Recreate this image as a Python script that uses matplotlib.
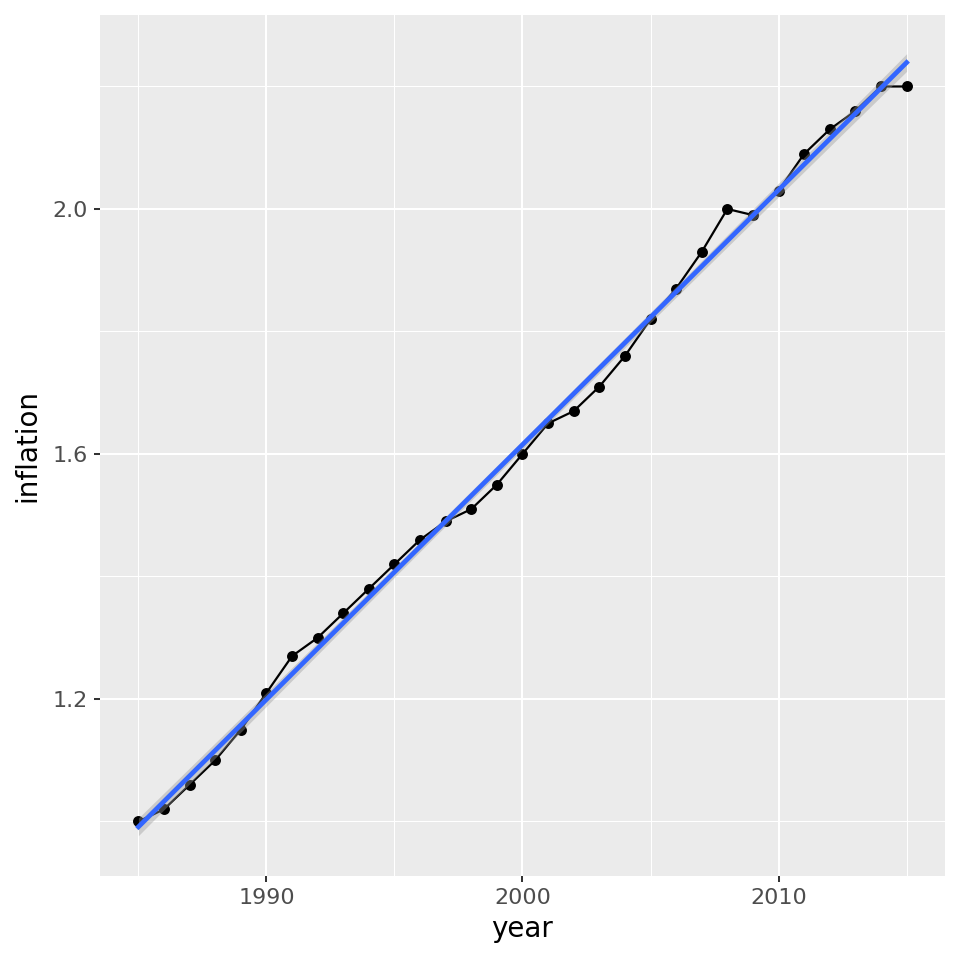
import numpy as np
import matplotlib
matplotlib.use("Agg")
import matplotlib.pyplot as plt
from matplotlib.ticker import MultipleLocator

# data
years = list(range(1985, 2016))
inflation = [1.00, 1.02, 1.06, 1.10, 1.15, 1.21, 1.27, 1.30, 1.34, 1.38,
             1.42, 1.46, 1.49, 1.51, 1.55, 1.60, 1.65, 1.67, 1.71, 1.76,
             1.82, 1.87, 1.93, 2.00, 1.99, 2.03, 2.09, 2.13, 2.16, 2.20,
             2.20]

x = np.array(years, dtype=float)
y = np.array(inflation)

# linear fit with 95% confidence band (like geom_smooth(method="lm"))
slope, icpt = np.polyfit(x, y, 1)
xs = np.linspace(x.min(), x.max(), 80)
fit = icpt + slope * xs
n = len(x)
resid = y - (icpt + slope * x)
s = np.sqrt(np.sum(resid**2) / (n - 2))
sxx = np.sum((x - x.mean())**2)
se = s * np.sqrt(1.0 / n + (xs - x.mean())**2 / sxx)
tq = 2.045  # t(0.975, df=29)
lo, hi = fit - tq * se, fit + tq * se

fig = plt.figure(figsize=(9.6, 9.6), dpi=100)
ax = fig.add_axes([100 / 960, 1 - 876 / 960, 845 / 960, 861 / 960])
ax.set_facecolor("#EBEBEB")
for sp in ax.spines.values():
    sp.set_visible(False)

ax.set_xticks([1990, 2000, 2010])
ax.xaxis.set_minor_locator(MultipleLocator(5))
ax.set_yticks([1.2, 1.6, 2.0])
ax.set_yticks([1.0, 1.4, 1.8, 2.2], minor=True)
ax.grid(which="major", color="white", linewidth=1.45)
ax.grid(which="minor", color="white", linewidth=0.72)
ax.set_axisbelow(True)

ax.plot(x, y, color="black", linewidth=1.6, zorder=3)
ax.scatter(x, y, s=62, color="black", zorder=3, linewidths=0)
ax.fill_between(xs, lo, hi, color="#999999", alpha=0.4, linewidth=0, zorder=4)
ax.plot(xs, fit, color="#3366FF", linewidth=3.4, zorder=5)

ax.set_xlim(1983.5, 2016.5)
ax.set_ylim(0.911, 2.3167)
ax.set_yticklabels(["1.2", "1.6", "2.0"])

ax.tick_params(which="major", length=4.5, width=1.45, color="#333333",
               labelsize=16, labelcolor="#4D4D4D", pad=4.5)
ax.tick_params(which="minor", length=0)
ax.set_xlabel("year", fontsize=20, labelpad=5)
ax.set_ylabel("inflation", fontsize=20, labelpad=8)

fig.savefig("out.png", dpi=100)
